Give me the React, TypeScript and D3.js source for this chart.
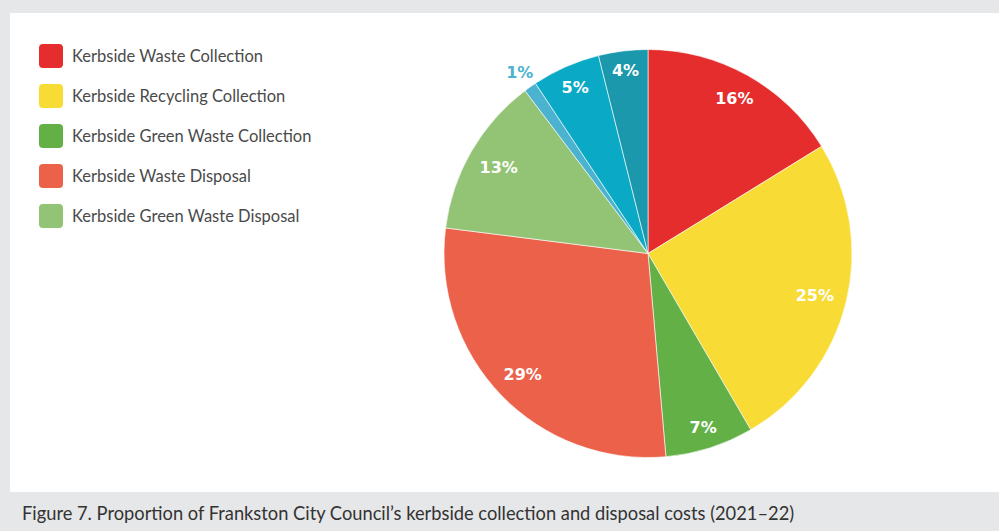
import React from "react";
import * as d3 from "d3";

const categories = [
  "Kerbside Waste Collection",
  "Kerbside Recycling Collection",
  "Kerbside Green Waste Collection",
  "Kerbside Waste Disposal",
  "Kerbside Green Waste Disposal",
  "Other 1",
  "Other 2",
  "Other 3",
];
const values = [16.2, 25.4, 7.0, 28.4, 12.7, 1.0, 5.4, 3.9];
const labels = ["16%", "25%", "7%", "29%", "13%", "1%", "5%", "4%"];
const colors = ["#e52d2e", "#f8dc35", "#63b046", "#eb6149", "#93c374", "#4bb3cf", "#0aa9c6", "#1b98ab"];
const legendCount = 5;
const outsideLabel = [false, false, false, false, false, true, false, false];
const caption = "Figure 7. Proportion of Frankston City Council\u2019s kerbside collection and disposal costs (2021\u201322)";

const LABEL_FONT = "bold 16px 'DejaVu Sans'";

function measure(text: string): number {
  if (typeof document === "undefined") return text.length * 11;
  const c = document.createElement("canvas").getContext("2d");
  if (!c) return text.length * 11;
  c.font = LABEL_FONT;
  return c.measureText(text).width;
}

export default function App() {
  const W = 999, H = 531;
  const cx = 648, cy = 253.5, r = 204;
  const pie = d3.pie<number>().sort(null).value((d) => d);
  const arcs = pie(values);
  const arc = d3.arc<d3.PieArcDatum<number>>().innerRadius(0).outerRadius(r);
  const outArc = d3.arc<d3.PieArcDatum<number>>().innerRadius(222).outerRadius(222);
  const legendY = d3.scaleLinear().domain([0, 1]).range([56, 96]);
  const inner = 192; // inside-end: farthest corner of the label box sits on this radius
  const capH = 11.5;

  const labelPos = (a: d3.PieArcDatum<number>, i: number): [number, number] => {
    if (outsideLabel[i]) return outArc.centroid(a) as [number, number];
    const ang = (a.startAngle + a.endAngle) / 2;
    const ux = Math.sin(ang), uy = -Math.cos(ang);
    const w = measure(labels[i]);
    const sx = Math.sign(ux) * w / 2, sy = Math.sign(uy) * capH / 2;
    const us = ux * sx + uy * sy;
    const d = -us + Math.sqrt(us * us - (sx * sx + sy * sy) + inner * inner);
    return [d * ux, d * uy];
  };

  return (
    <svg width={W} height={H} style={{ position: "absolute", left: 0, top: 0 }}>
      <rect x={0} y={0} width={W} height={H} fill="#e6e7e8" />
      <rect x={10} y={13} width={W - 10} height={479} fill="#ffffff" />
      <g transform={`translate(${cx},${cy})`}>
        {arcs.map((a, i) => (
          <path key={i} d={arc(a) || ""} fill={colors[i]} stroke="#ffffff" strokeWidth={0.6} />
        ))}
        {arcs.map((a, i) => {
          const [x, y] = labelPos(a, i);
          return (
            <text
              key={"l" + i}
              x={x}
              y={y}
              textAnchor="middle"
              dominantBaseline="central"
              fill={outsideLabel[i] ? colors[i] : "#ffffff"}
              style={{ fontFamily: "'DejaVu Sans', sans-serif", fontWeight: 700, fontSize: 16 }}
            >
              {labels[i]}
            </text>
          );
        })}
      </g>
      {categories.slice(0, legendCount).map((c, i) => (
        <g key={"lg" + i} transform={`translate(39,${legendY(i)})`}>
          <rect x={0} y={-12} width={24} height={24} rx={4} fill={colors[i]} />
          <text x={33} y={0} dominantBaseline="central" fill="#4a4a4a" style={{ fontFamily: "Lato, sans-serif", fontSize: 16.5 }}>
            {c}
          </text>
        </g>
      ))}
      <text x={22} y={520} fill="#333" style={{ fontFamily: "Lato, sans-serif", fontSize: 18.3 }}>
        {caption}
      </text>
    </svg>
  );
}
